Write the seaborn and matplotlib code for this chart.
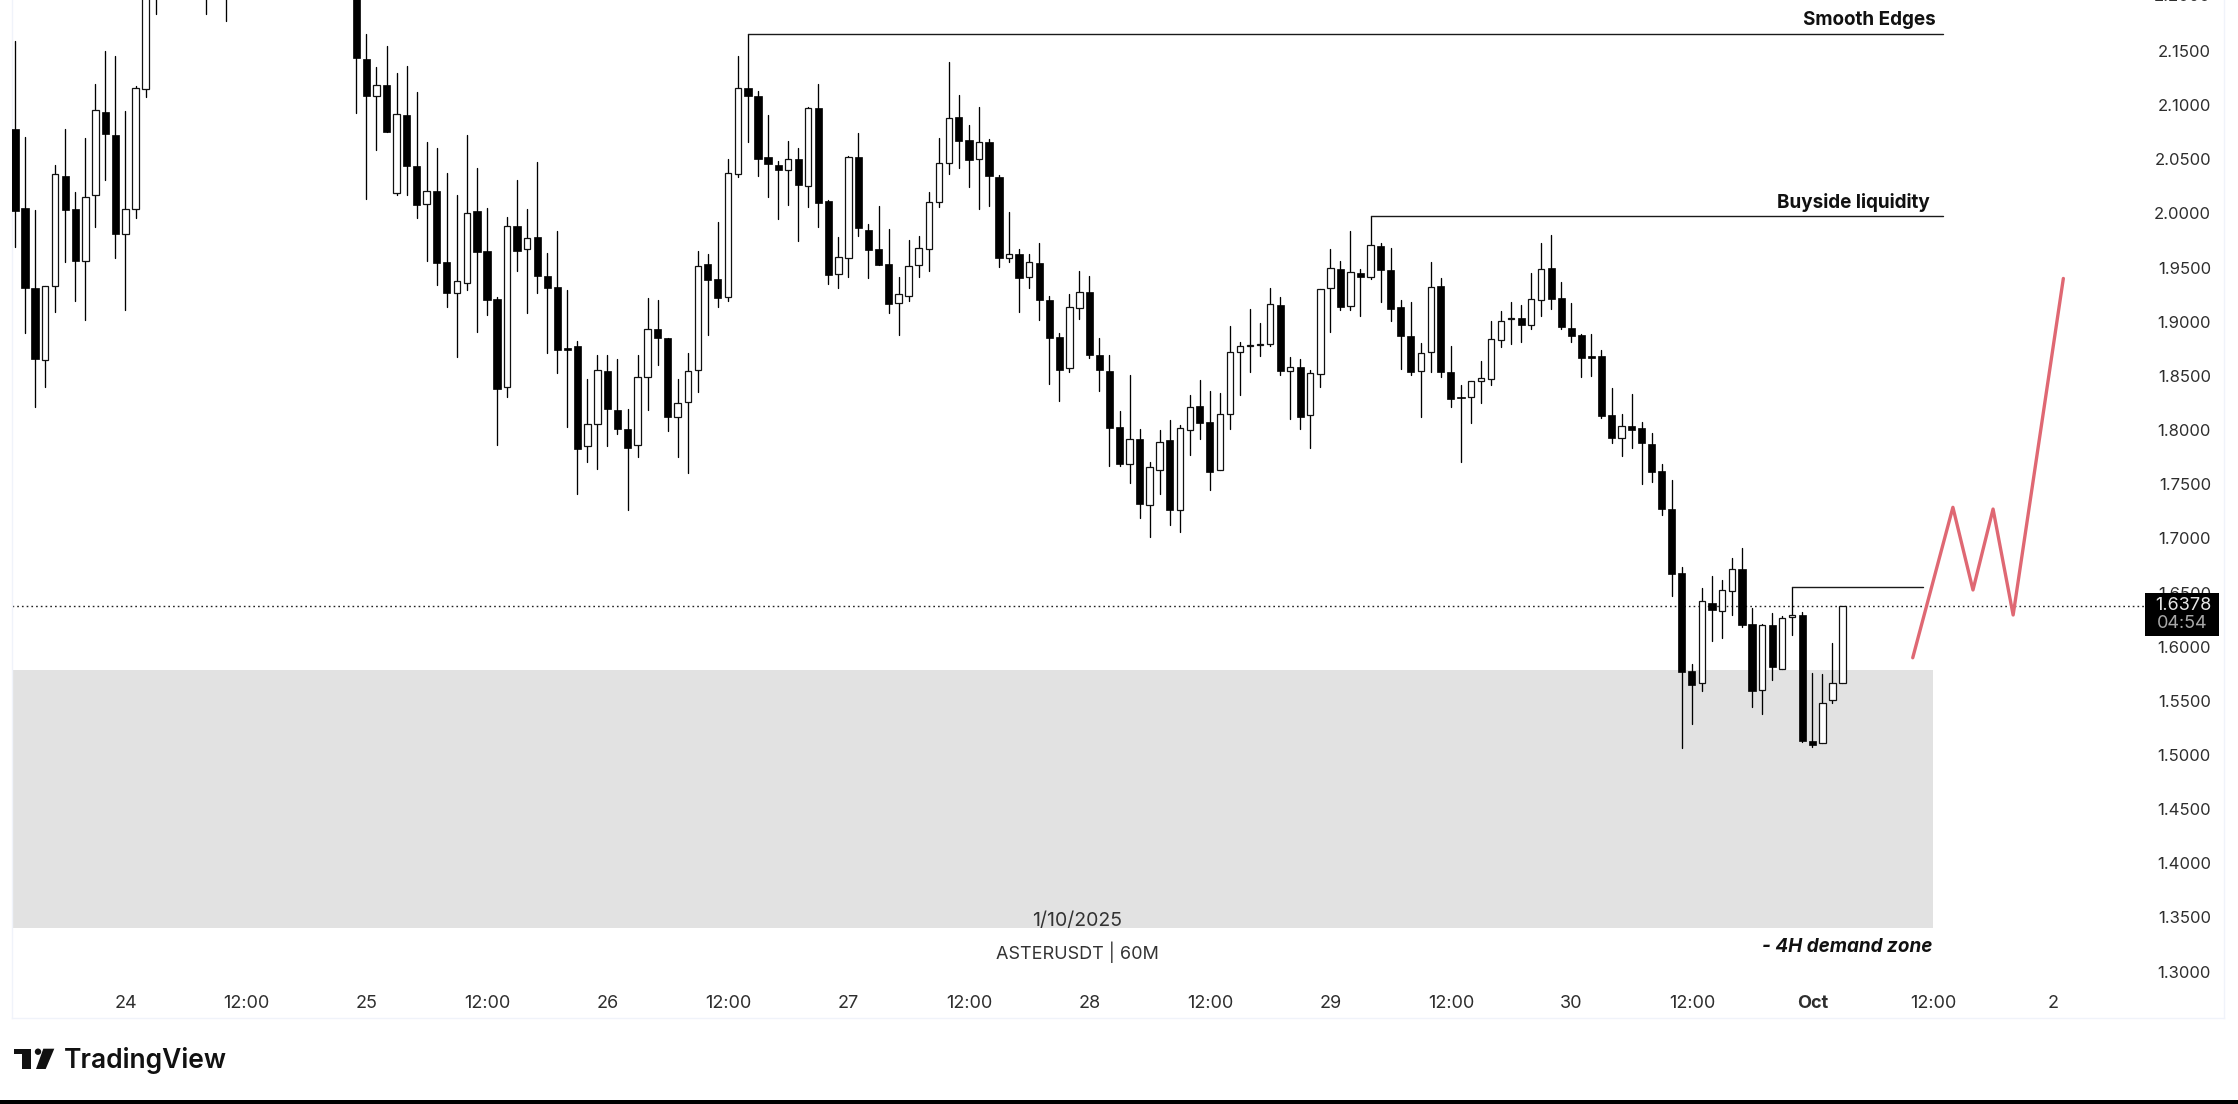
import pandas as pd
import matplotlib
matplotlib.use("Agg")
import matplotlib.pyplot as plt
import seaborn as sns
from matplotlib.patches import Circle, Polygon, Rectangle
from matplotlib.transforms import IdentityTransform

# --- Data (hours counted from 24 Sep 00:00) ---
hours = list(range(-11, 4)) + [8, 10] + list(range(23, 172))

opens = [
    2.0777, 2.0047, 1.9315, 1.8644, 1.9330, 2.0343, 2.0038, 1.9561, 2.0167, 2.0934,
    2.0724, 1.9807, 2.0038, 2.1152, 2.2050, 2.2050, 2.2100, 2.2200,
    2.1426, 2.1081, 2.1183, 2.0186, 2.0906, 2.0438, 2.0084, 2.0210, 1.9552, 1.9269,
    1.9355, 2.0020, 1.9650, 1.9210, 1.8394, 1.9887, 1.9669, 1.9786, 1.9419, 1.9321,
    1.8758, 1.8776, 1.7850, 1.8053, 1.8545, 1.8182, 1.8013, 1.7859, 1.8490, 1.8936,
    1.8850, 1.8117, 1.8256, 1.8551, 1.9530, 1.9392, 1.9225, 2.0361, 2.1162, 2.1088,
    2.0519, 2.0445, 2.0399, 2.0503, 2.0251, 2.0971, 2.0115, 1.9438, 1.9592, 2.0522,
    1.9848, 1.9669, 1.9534, 1.9177, 1.9241, 1.9524, 1.9672, 2.0109, 2.0469, 2.0891,
    2.0682, 2.0506, 2.0663, 2.0337, 1.9589, 1.9626, 1.9414, 1.9540, 1.9201, 1.8856,
    1.8570, 1.9124, 1.9275, 1.8690, 1.8545, 1.8031, 1.7690, 1.7917, 1.7311, 1.7634,
    1.7905, 1.7259, 1.8004, 1.8219, 1.8071, 1.7628, 1.8145, 1.8724, 1.8779, 1.8788,
    1.8795, 1.9155, 1.8542, 1.8582, 1.8139, 1.8521, 1.9309, 1.9490, 1.9149, 1.9447,
    1.9416, 1.9696, 1.9475, 1.9139, 1.8868, 1.8542, 1.8718, 1.9333, 1.8539, 1.8307,
    1.8304, 1.8456, 1.8476, 1.8835, 1.9030, 1.9036, 1.8970, 1.9205, 1.9498, 1.9221,
    1.8947, 1.8875, 1.8683, 1.8687, 1.8139, 1.7925, 1.8037, 1.8017, 1.7869, 1.7621,
    1.7269, 1.6682, 1.5775, 1.5662, 1.6404, 1.6332, 1.6513, 1.6715, 1.6207, 1.5597,
    1.6200, 1.5798, 1.6272, 1.6296, 1.5125, 1.5108, 1.5504, 1.5662,
]
highs = [
    2.1589, 2.0709, 2.0035, 1.9330, 2.0444, 2.0783, 2.0195, 2.0694, 2.1192, 2.1500,
    2.1457, 2.0943, 2.1174, 2.2150, 2.2400, 2.2300, 2.2350, 2.2300,
    2.1657, 2.1355, 2.1543, 2.1297, 2.1362, 2.1121, 2.0657, 2.0604, 2.0370, 2.0167,
    2.0724, 2.0417, 2.0053, 1.9232, 1.9964, 2.0309, 2.0038, 2.0472, 1.9635, 1.9838,
    1.9290, 1.8822, 1.8471, 1.8693, 1.8693, 1.8659, 1.8191, 1.8690, 1.9216, 1.9201,
    1.8850, 1.8471, 1.8708, 1.9656, 1.9626, 1.9921, 2.0506, 2.1457, 2.1657, 2.1131,
    2.0909, 2.0488, 2.0666, 2.0605, 2.0986, 2.1193, 2.0121, 1.9786, 2.0528, 2.0740,
    1.9906, 2.0069, 1.9854, 1.9410, 1.9752, 1.9789, 2.0195, 2.0697, 2.1396, 2.1091,
    2.0817, 2.0980, 2.0685, 2.0355, 2.0011, 1.9669, 1.9626, 1.9728, 1.9235, 1.8893,
    1.9256, 1.9469, 1.9423, 1.8847, 1.8693, 1.8176, 1.8508, 1.8010, 1.7705, 1.8000,
    1.8093, 1.8044, 1.8324, 1.8462, 1.8361, 1.8339, 1.8961, 1.8810, 1.9115, 1.8988,
    1.9312, 1.9226, 1.8671, 1.8653, 1.8555, 1.9299, 1.9669, 1.9561, 1.9838, 1.9487,
    1.9977, 1.9724, 1.9678, 1.9201, 1.9186, 1.8801, 1.9552, 1.9407, 1.8776, 1.8416,
    1.8449, 1.8637, 1.9007, 1.9099, 1.9185, 1.9152, 1.9452, 1.9726, 1.9801, 1.9363,
    1.9178, 1.8888, 1.8885, 1.8736, 1.8393, 1.8146, 1.8331, 1.8073, 1.7971, 1.7684,
    1.7539, 1.6734, 1.5837, 1.6543, 1.6652, 1.6616, 1.6817, 1.6912, 1.6362, 1.6213,
    1.6315, 1.6279, 1.6553, 1.6319, 1.5755, 1.5745, 1.6038, 1.6378,
]
lows = [
    1.9687, 1.8893, 1.8210, 1.8397, 1.9093, 1.9555, 1.9195, 1.9013, 1.9875, 2.0309,
    1.9592, 1.9112, 1.9961, 2.1075, 2.1839, 2.1839, 2.1780, 2.0931,
    2.0130, 2.0589, 2.0749, 2.0167, 2.0170, 1.9961, 1.9564, 1.9342, 1.9133, 1.8678,
    1.9293, 1.8908, 1.9059, 1.7865, 1.8308, 1.9465, 1.9084, 1.9262, 1.8708, 1.8530,
    1.8031, 1.7406, 1.7708, 1.7643, 1.7856, 1.7960, 1.7265, 1.7754, 1.8185, 1.8600,
    1.7994, 1.7754, 1.7606, 1.8354, 1.8878, 1.9133, 1.9195, 2.0334, 2.0657, 2.0346,
    2.0155, 1.9949, 2.0081, 1.9749, 2.0057, 1.9875, 1.9352, 1.9309, 1.9417, 1.9795,
    1.9407, 1.9527, 1.9084, 1.8881, 1.9189, 1.9410, 1.9466, 2.0057, 2.0368, 2.0417,
    2.0248, 2.0038, 2.0066, 1.9509, 1.9555, 1.9093, 1.9315, 1.9020, 1.8425, 1.8265,
    1.8539, 1.9029, 1.8669, 1.8364, 1.7668, 1.7668, 1.7508, 1.7191, 1.7009, 1.7406,
    1.7123, 1.7062, 1.7773, 1.7917, 1.7446, 1.7628, 1.8013, 1.8327, 1.8533, 1.8687,
    1.8779, 1.8511, 1.8105, 1.8007, 1.7837, 1.8401, 1.8908, 1.9112, 1.9112, 1.9056,
    1.9398, 1.9186, 1.9010, 1.8567, 1.8511, 1.8124, 1.8539, 1.8493, 1.8210, 1.7707,
    1.8067, 1.8248, 1.8420, 1.8766, 1.8796, 1.8809, 1.8937, 1.9056, 1.9122, 1.8937,
    1.8809, 1.8486, 1.8499, 1.8116, 1.7885, 1.7757, 1.7839, 1.7506, 1.7522, 1.7213,
    1.6470, 1.5065, 1.5290, 1.5593, 1.6055, 1.6081, 1.6289, 1.6184, 1.5441, 1.5382,
    1.5695, 1.5798, 1.6111, 1.5122, 1.5075, 1.5108, 1.5481, 1.5662,
]
closes = [
    2.0026, 1.9315, 1.8653, 1.9330, 2.0361, 2.0035, 1.9564, 2.0155, 2.0955, 2.0737,
    1.9807, 2.0038, 2.1158, 2.2050, 2.2300, 2.2200, 2.2250, 2.1432,
    2.1088, 2.1183, 2.0749, 2.0915, 2.0438, 2.0081, 2.0207, 1.9542, 1.9269, 1.9373,
    2.0004, 1.9641, 1.9204, 1.8382, 1.9884, 1.9656, 1.9770, 1.9426, 1.9315, 1.8742,
    1.8736, 1.7825, 1.8053, 1.8551, 1.8194, 1.8007, 1.7837, 1.8487, 1.8933, 1.8853,
    1.8123, 1.8247, 1.8542, 1.9518, 1.9389, 1.9222, 2.0370, 2.1155, 2.1088, 2.0506,
    2.0460, 2.0405, 2.0500, 2.0260, 2.0974, 2.0100, 1.9435, 1.9595, 2.0522, 1.9863,
    1.9660, 1.9527, 1.9167, 1.9254, 1.9518, 1.9678, 2.0106, 2.0469, 2.0882, 2.0666,
    2.0491, 2.0657, 2.0346, 1.9586, 1.9626, 1.9404, 1.9549, 1.9201, 1.8850, 1.8558,
    1.9134, 1.9272, 1.8696, 1.8552, 1.8022, 1.7690, 1.7914, 1.7317, 1.7656, 1.7893,
    1.7259, 1.8016, 1.8216, 1.8068, 1.7616, 1.8145, 1.8718, 1.8773, 1.8782, 1.8791,
    1.9167, 1.8548, 1.8579, 1.8124, 1.8524, 1.9299, 1.9499, 1.9139, 1.9463, 1.9413,
    1.9709, 1.9481, 1.9121, 1.8872, 1.8536, 1.8715, 1.9318, 1.8533, 1.8284, 1.8294,
    1.8449, 1.8479, 1.8838, 1.9003, 1.9033, 1.8974, 1.9208, 1.9485, 1.9214, 1.8954,
    1.8871, 1.8670, 1.8667, 1.8133, 1.7931, 1.8034, 1.8004, 1.7885, 1.7615, 1.7272,
    1.6675, 1.5768, 1.5649, 1.6418, 1.6335, 1.6520, 1.6715, 1.6197, 1.5593, 1.6197,
    1.5811, 1.6269, 1.6296, 1.5128, 1.5089, 1.5478, 1.5662, 1.6378,
]

path_hours = [178, 182, 184, 186, 188, 193]
path_prices = [1.5898, 1.7287, 1.6524, 1.7271, 1.6293, 1.9400]

zone_top, zone_bottom = 1.5785, 1.3403
last_price = closes[-1]

smooth_edges = (62, 2.1657)
buyside = (124, 1.9977)
minor_high = (166, 1.6553)

price_ticks = [round(1.30 + 0.05 * i, 2) for i in range(18)]
time_ticks = [0, 12, 24, 36, 48, 60, 72, 84, 96, 108, 120, 132, 144, 156, 168, 180, 192]
time_labels = ["24", "12:00", "25", "12:00", "26", "12:00", "27", "12:00", "28",
               "12:00", "29", "12:00", "30", "12:00", "Oct", "12:00", "2"]

df = pd.DataFrame({"hour": hours, "open": opens, "high": highs, "low": lows, "close": closes})
df["up"] = df["close"] >= df["open"]

sns.set_theme(style="white")
plt.rcParams["font.family"] = ["Inter", "DejaVu Sans"]

W, H = 2238, 1104
fig = plt.figure(figsize=(W / 100, H / 100), dpi=100)
ax = fig.add_axes([12 / W, (H - 1018) / H, (2224 - 12) / W, 1018 / H])

# --- Demand zone ---
x_left, x_right = -11.3, 209
ax.fill_between([x_left, 180], zone_bottom, zone_top, color="#e2e2e2", lw=0, zorder=1)

# --- Candles: wicks through seaborn, one unit per candle ---
wicks = df.melt(id_vars="hour", value_vars=["high", "low"], value_name="price")
sns.lineplot(data=wicks, x="hour", y="price", units="hour", estimator=None,
             color="black", lw=0.95, ax=ax, zorder=3, legend=False)

down = df[~df["up"]]
up = df[df["up"]]
ax.bar(down["hour"], down["open"] - down["close"], bottom=down["close"], width=0.72,
       color="black", edgecolor="black", lw=0.5, zorder=4)
ax.bar(up["hour"], up["close"] - up["open"], bottom=up["open"], width=0.64,
       color="white", edgecolor="#111111", lw=0.9, zorder=4)

# --- Drawn levels ---
level_color = "#1a1a1a"
for (h, p), x_end in [(smooth_edges, 181), (buyside, 181), (minor_high, 179)]:
    ax.plot([h, h, x_end], [df.loc[df["hour"] == h, "high"].iloc[0], p, p],
            color=level_color, lw=1.0, zorder=3)

ax.plot([x_left, 201.2], [last_price, last_price], color="#222222", lw=1.0,
        ls=(0, (1.2, 2.2)), zorder=2)

# --- Projection path ---
sns.lineplot(x=path_hours, y=path_prices, sort=False, estimator=None, color="#df6873",
             lw=2.4, ax=ax, zorder=5)

# --- Last price tag ---
ax.add_patch(Rectangle((201.1, 1.6099), 7.4, 0.0397, color="black", lw=0, zorder=6))
ax.text(207.7, 1.6385, "1.6378", color="#e6e6e6", fontsize=13, ha="right", va="center", zorder=7)
ax.text(202.3, 1.6210, "04:54", color="#a8a8a8", fontsize=13, ha="left", va="center", zorder=7)

# --- Axes ---
ax.set_xlabel("")
ax.set_ylabel("")
for side, spine in ax.spines.items():
    spine.set_visible(side != "top")
    spine.set_color("#f0f3fa")
    spine.set_linewidth(1)

ax.set_xticks(time_ticks)
ax.set_xticklabels(time_labels)
ax.set_yticks(price_ticks)
ax.set_yticklabels([f"{p:.4f}" for p in price_ticks])
ax.set_xlim(x_left, x_right)
ax.set_ylim(1.2572, 2.1971)
ax.tick_params(axis="x", length=0, pad=-10.2, labelsize=13, labelcolor="#2e2e2e")
ax.tick_params(axis="y", length=0, pad=-9.4, labelsize=12, labelcolor="#2e2e2e",
               left=False, labelleft=False, right=False, labelright=True)
for lab in ax.get_xticklabels():
    lab.set_va("center")
    if lab.get_text() == "Oct":
        lab.set_fontweight("bold")
for lab in ax.get_yticklabels():
    lab.set_ha("right")

# 2.2000 sits on the picture's top edge, half cut as in the chart
ax.text(207.7, 2.2, "2.2000", fontsize=12, color="#2e2e2e", ha="right", va="center", clip_on=False)

# --- Annotations ---
ax.text(0.4815, 0.0950, "1/10/2025", transform=ax.transAxes, fontsize=14, color="#333333",
        ha="center", va="center", zorder=7)
ax.text(0.4815, 0.0642, "ASTERUSDT | 60M", transform=ax.transAxes, fontsize=13, color="#333333",
        ha="center", va="center", zorder=7)
ax.text(180.3, 2.1782, "Smooth Edges", fontsize=13.6, fontweight="bold", color="#111111",
        ha="right", va="center", zorder=7)
ax.text(179.7, 2.0101, "Buyside liquidity", fontsize=13.6, fontweight="bold", color="#111111",
        ha="right", va="center", zorder=7)
ax.text(180, 1.3230, "- 4H demand zone", fontsize=13.6, fontweight="bold", style="italic",
        color="#111111", ha="right", va="center", zorder=7)


# --- TradingView mark and bottom strip, placed in picture pixels ---
def px(x, y):
    return x / W, 1 - y / H


def poly(points):
    fig.add_artist(Polygon([px(*p) for p in points], closed=True, color="#111111", lw=0,
                           transform=fig.transFigure))


poly([(14.3, 1048.7), (30.7, 1048.7), (30.7, 1069), (22, 1069), (22, 1054.3), (14.3, 1054.3)])
poly([(43.3, 1048.7), (54.3, 1048.7), (45.7, 1069), (36, 1069)])
fig.add_artist(Circle((38, H - 1051.7), 3.2, color="#111111", lw=0, transform=IdentityTransform()))
fig.text(64 / W, 1 - 1068 / H, "TradingView", fontsize=19, fontweight="semibold", color="#111111",
         ha="left", va="baseline")
fig.add_artist(Rectangle((0, 0), 1, 4 / H, color="black", lw=0, transform=fig.transFigure))

fig.savefig("out.png", dpi=100)
